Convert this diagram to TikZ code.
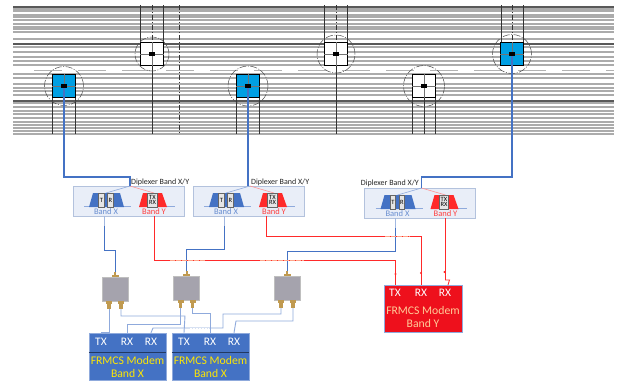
\documentclass[tikz,border=0pt]{standalone}
\usepackage{fontspec}
\setmainfont{Carlito}
\usetikzlibrary{calc}
\definecolor{bl}{HTML}{4472C4}
\definecolor{lbl}{HTML}{8FAADC}
\definecolor{cy}{HTML}{009FE3}
\definecolor{rd}{HTML}{FF2A2A}
\definecolor{mred}{HTML}{EE101C}
\definecolor{gold}{HTML}{C09A50}
\definecolor{grybx}{HTML}{A5A3AD}
\tikzset{
  hl/.style={line width=1.3pt,black!33},
  vl/.style={line width=.5pt,black!80},
  vd/.style={line width=.5pt,black!80,dash pattern=on 5pt off 2pt on 1pt off 2pt},
  swbox/.style={draw=black,line width=.9pt,minimum size=22.5pt,inner sep=0pt},
  swblue/.style={swbox,fill=cy},
  swwhite/.style={swbox,fill=white},
  ring/.style={draw=black!70,line width=.5pt,circle,dash pattern=on 7pt off 1.5pt on 1pt off 1.5pt,inner sep=0pt,fill=none},
  chip/.style={fill=black,minimum width=6.5pt,minimum height=4pt,inner sep=0pt},
  feed/.style={draw=bl,line width=1.4pt},
  bline/.style={draw=bl,line width=.9pt},
  lline/.style={draw=lbl,line width=.9pt},
  rline/.style={draw=rd,line width=.85pt},
  dipbox/.style={draw=black!10!lbl!60,fill=bl!12,line width=.9pt,minimum width=111pt,minimum height=30pt,inner sep=0pt},
  diptext/.style={font=\fontsize{8}{9}\selectfont,inner sep=0pt,text=black!85},
  fport/.style={font=\fontsize{6.5}{6.5}\selectfont,inner sep=0pt,align=center,text=black,draw=black!60,line width=.6pt,fill=white!90!black},
  bandx/.style={font=\fontsize{8.5}{9}\selectfont,inner sep=0pt,text=bl!80!white},
  bandy/.style={font=\fontsize{8.5}{9}\selectfont,inner sep=0pt,text=rd!90!white},
  split/.style={fill=grybx,minimum width=26pt,minimum height=24pt,inner sep=0pt,draw=black!25,line width=.3pt},
  modem/.style={fill=bl,draw=lbl,line width=.5pt,minimum width=77pt,minimum height=47pt,inner sep=0pt},
  redmodem/.style={fill=mred,draw=lbl,line width=.5pt,minimum width=78pt,minimum height=47pt,inner sep=0pt},
  ptxt/.style={font=\fontsize{11.5}{12}\selectfont,inner sep=0pt,text=white},
  ytxt/.style={font=\fontsize{11.7}{13}\selectfont,inner sep=0pt,text=yellow!90!orange},
  stxt/.style={font=\fontsize{11.7}{13}\selectfont,inner sep=0pt,text=orange!40!white},
}
\newcommand{\mkswitch}[5]{%
  \node[#5] (#1) at (#2,#3) {};
  \node[ring,minimum size=#4pt] (#1ring) at (#2,#3) {};
  \draw[black!55,line width=.5pt] (#1.west) -- (#1.east) (#1.north) -- (#1.south);
}
\newcommand{\mkchip}[3]{\node[chip] (#1chip) at (#2,#3) {};}
\newcommand{\mkdiplexer}[4]{%
  \begin{scope}[shift={(#2,#3)}]
  \node[dipbox] (#1) at (55.5,15) {};
  \coordinate (#1in) at (57,0);
  \draw[lbl,line width=.5pt] (11,20.5) -- (58,20.5) (66,20.5) -- (102,20.5);
  \draw[lbl,line width=.6pt] (#1in) -- (33,7);
  \draw[rd!50!white,line width=.6pt] (#1in) -- (81,7);
  \path[fill=bl] (16,21) -- (20,7) -- (47,7) -- (51,21) -- cycle;
  \path[fill=rd] (66,21) -- (70,7) -- (89,7) -- (94,21) -- cycle;
  \node[fport,minimum width=5.5pt,minimum height=14pt] (#1t) at (28.5,14) {T};
  \node[fport,minimum width=5.5pt,minimum height=14pt] (#1r) at (37.5,14) {R};
  \node[fport,minimum width=9.5pt,minimum height=14pt,align=center] (#1tr) at (79.5,14) {TX\\[-1.5pt]RX};
  \node[bandx] (#1bx) at (33,25.5) {Band X};
  \node[bandy] (#1by) at (81,25.5) {Band Y};
  \coordinate (#1xo) at (31.3,30);
  \coordinate (#1yo) at (81,30);
  \end{scope}
}
\newcommand{\mksplitter}[4]{%
  \node[split] (#1) at (#2,#3) {};
  \coordinate (#1top) at (#2,#3-17);
  \coordinate (#1l) at (#2-6,#3+20);
  \coordinate (#1r) at (#2+6,#3+20);
  \fill[gold] (#2-1,#3-17) rectangle (#2+1,#3-14);
  \fill[gold] (#2-3.5,#3-14) rectangle (#2+3.5,#3-12);
  \foreach \d in {-6,6}{
    \fill[gold] (#2+\d-3,#3+12) rectangle (#2+\d+3,#3+15);
    \fill[gold] (#2+\d-1.8,#3+15) rectangle (#2+\d+1.8,#3+20);
  }
}
\begin{document}
\begin{tikzpicture}[x=1pt,y=-1pt]
\useasboundingbox[fill=white] (0,0) rectangle (625,381);
% track bundle
\foreach \y in {9,11,15,17,20,24,27,29,32,39,47,52,57,61,65,74,78,84,88,91,95,103,107,111,114,118,122,125,128,131,134}
  \draw[hl] (13,\y) -- (614,\y);
\foreach \y in {7,44,101}
  \draw[line width=1.2pt,black!65] (13,\y) -- (614,\y);
\draw[line width=1pt,black!30] (18,70) -- (614,70);
\draw[line width=1.2pt,white,dash pattern=on 16pt off 28pt] (18,70) -- (614,70);
% verticals
\foreach \x in {140,163,324,347,501,523}
  \draw[vl] (\x,5) -- (\x,43);
\foreach \x in {152,336,512}
  \draw[vd] (\x,5) -- (\x,43);
\draw[vd] (179,5) -- (179,134);
\foreach \x in {152,336}
  \draw[vl] (\x,65) -- (\x,134);
\foreach \x in {52,75,236,259,412,424,435}
  \draw[vl] (\x,97) -- (\x,134);
% switches
\mkswitch{swa}{64}{86}{39}{swblue}
\mkswitch{swb}{152}{54}{34}{swwhite}
\mkswitch{swc}{248}{86}{40}{swblue}
\mkswitch{swd}{336}{54}{38}{swwhite}
\mkswitch{swe}{424}{86}{41}{swwhite}
\mkswitch{swf}{512}{54}{39}{swblue}
% diplexers
\mkdiplexer{dipa}{73}{186}{}
\mkdiplexer{dipb}{193}{186}{}
\mkdiplexer{dipc}{364.5}{188}{}
\node[diptext,anchor=south west] (lba) at (131,185.5) {Diplexer Band X/Y};
\node[diptext,anchor=south west] (lbb) at (251,185.5) {Diplexer Band X/Y};
\node[diptext,anchor=south east] (lbc) at (419,187) {Diplexer Band X/Y};
% feeds
\draw[feed] (swa.center) -- ++(0,91) -| (dipain);
\draw[feed] (swc.center) -- (swc.center |- dipbin);
\draw[feed] (swf.center) -- ++(0,123) -| (dipcin);
\mkchip{swa}{64}{86}
\mkchip{swb}{152}{54}
\mkchip{swc}{248}{86}
\mkchip{swd}{336}{54}
\mkchip{swe}{424}{86}
\mkchip{swf}{512}{54}
% splitters
\mksplitter{spa}{115}{289}{}
\mksplitter{spb}{186.5}{288}{}
\mksplitter{spc}{287}{288}{}
% modems
\node[modem] (moda) at (127.5,356.5) {};
\node[modem] (modb) at (210.5,356.5) {};
\node[redmodem] (modc) at (423,308.5) {};
\draw[black!50!bl,line width=.6pt] (moda.west |- 0,352) -- (moda.east |- 0,352);
\draw[black!50!bl,line width=.6pt] (modb.west |- 0,352) -- (modb.east |- 0,352);
\node[ptxt] (atx) at (101,342) {TX};
\node[ptxt] (arx) at (127,342) {RX};
\node[ptxt] (ary) at (151,342) {RX};
\node[ytxt] (ana) at (127.5,360) {FRMCS Modem};
\node[ytxt] (anb) at (127.5,373) {Band X};
\node[ptxt] (btx) at (184,342) {TX};
\node[ptxt] (brx) at (210,342) {RX};
\node[ptxt] (bry) at (234,342) {RX};
\node[ytxt] (bna) at (210.5,360) {FRMCS Modem};
\node[ytxt] (bnb) at (210.5,373) {Band X};
\node[ptxt] (ctx) at (395,293) {TX};
\node[ptxt] (crx) at (421,293) {RX};
\node[ptxt] (cry) at (445,293) {RX};
\node[stxt] (cna) at (423,310) {FRMCS Modem};
\node[stxt] (cnb) at (423,323) {Band Y};
% blue Band X lines
\draw[bline] (dipaxo) -- ++(0,34) -| (spatop);
\draw[bline] (dipbxo) -- ++(0,33) -| (spbtop);
\draw[bline] (dipcxo) -- ++(0,33) -| (spctop);
\draw[white,opacity=.5,line width=1pt] (dipaxo) -- ++(0,10);
\draw[white,opacity=.5,line width=1pt] (dipbxo) -- ++(0,10);
\draw[white,opacity=.5,line width=1pt] (dipcxo) -- ++(0,10);
% red Band Y lines
\draw[rline] (dipayo) |- (395.5,260) -- (395.5,285);
\draw[rline] (dipbyo) ++(-7.5,0) |- (421,236) -- (421,285);
\draw[rline] (dipcyo) -- ++(0,62) -- ++(4,0) -- (448,285);
\fill[rd] (395.5,274) circle (1.2pt) (421,273) circle (1.2pt) (444.5,272) circle (1.2pt);
\draw[orange!30!white,opacity=.7,line width=.6pt,dash pattern=on 5pt off 1pt] (170,260) -- (205,260);
\draw[orange!30!white,opacity=.7,line width=.6pt,dash pattern=on 5pt off 1pt] (260,260) -- (304,260);
\draw[orange!30!white,opacity=.7,line width=.6pt,dash pattern=on 5pt off 1pt] (385,236) -- (410,236);
% splitter to modem lines
\draw[lline] (spal) -- (109,332) -- (101,332) -- (atx.north |- moda.north);
\draw[lline] (spar) |- (185,316) -- (btx.north |- modb.north);
\draw[lline] (spbl) |- (127,324) -- (arx.north |- moda.north);
\draw[lline] (spbr) |- (210,313) -- (brx.north |- modb.north);
\draw[lline] (spcl) |- (223,314) |- (153,328) -- (ary.north |- moda.north);
\draw[lline] (spcr) |- (236,321) -- (bry.north |- modb.north);
\draw[white,line width=1pt,dash pattern=on 1.5pt off 1.5pt] (190,328) -- (209,328);
\end{tikzpicture}
\end{document}
